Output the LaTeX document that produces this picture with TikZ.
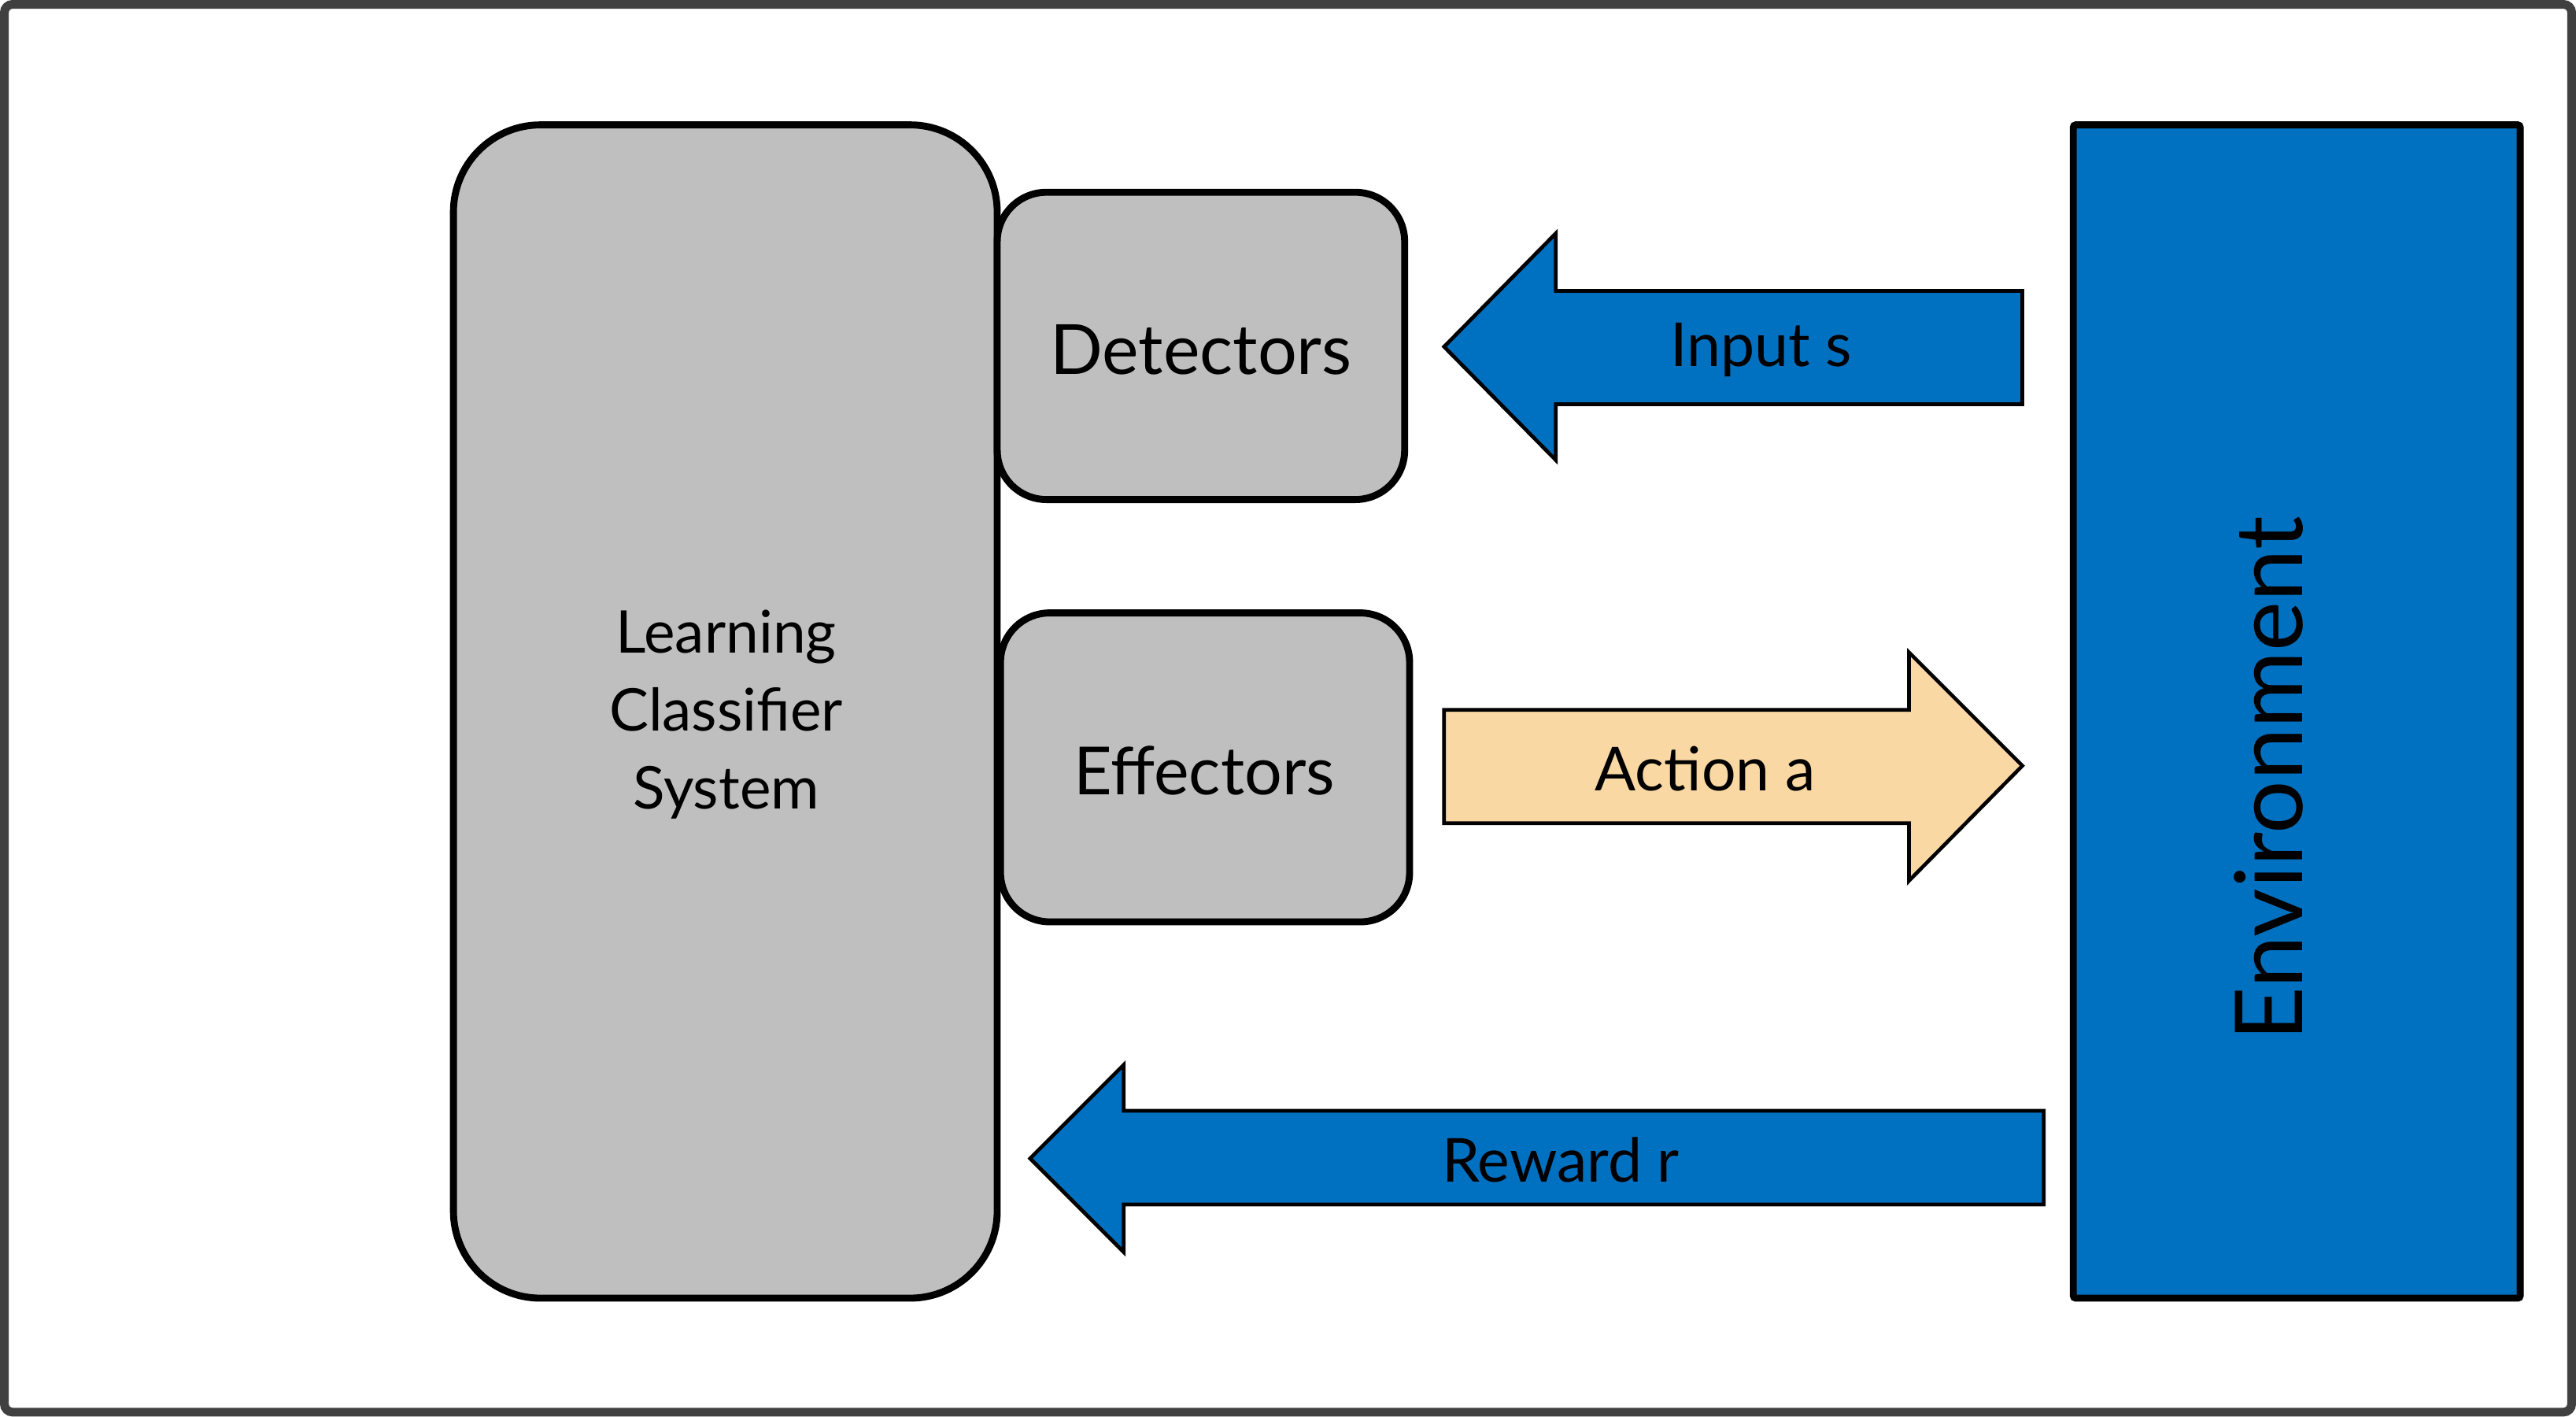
\documentclass[tikz,border=0pt]{standalone}
\usepackage{fontspec}
\setmainfont{Lato}
\definecolor{boxgray}{HTML}{BFBFBF}
\definecolor{envblue}{HTML}{0070C0}
\definecolor{actfill}{HTML}{FAD8A4}
\definecolor{frame}{HTML}{404040}
\begin{document}
\begin{tikzpicture}[x=0.02cm,y=-0.02cm,
  gbox/.style={draw=black,fill=boxgray,line width=0.085cm,rounded corners=#1},
  arrowshape/.style={draw=black,line width=0.045cm,line join=miter},
  lbl/.style={inner sep=0pt,font=\fontsize{24}{28}\selectfont},
  albl/.style={inner sep=0pt,font=\fontsize{21}{25}\selectfont}]
\useasboundingbox (0,0) rectangle (1568,862);
\fill[white] (0,0) rectangle (1568,862);
\draw[frame,line width=0.106cm,rounded corners=0.1cm] (2.65,2.65) rectangle (1565.35,859.35);
% LCS
\draw[gbox=1.06cm] (276,76) rectangle (607,790);
\node[inner sep=0pt,align=center,font=\fontsize{20.4}{27}\selectfont] (lcs) at (442,435) {Learning\\Classifier\\System};
% Detectors / Effectors
\draw[gbox=0.6cm] (607,117) rectangle (855,304);
\node[lbl] (det) at (731,213) {Detectors};
\draw[gbox=0.6cm] (609,373) rectangle (858,561);
\node[lbl,font=\fontsize{23}{28}\selectfont] (eff) at (733,469) {Effectors};
% Environment
\draw[draw=black,fill=envblue,line width=0.085cm,rounded corners=0.03cm] (1262,76) rectangle (1534,790);
\node[inner sep=0pt,rotate=90,font=\fontsize{32.5}{38}\selectfont] (env) at (1381,474) {Environment};
% Input arrow
\draw[arrowshape,fill=envblue] (879,211) -- (947,142) -- (947,177) -- (1231,177) -- (1231,246) -- (947,246) -- (947,280) -- cycle;
\node[albl] (inp) at (1072,213) {Input s};
% Action arrow
\draw[arrowshape,fill=actfill] (879,432) -- (1162,432) -- (1162,397) -- (1231,466) -- (1162,536) -- (1162,501) -- (879,501) -- cycle;
\node[albl] (act) at (1038,468) {Action a};
% Reward arrow
\draw[arrowshape,fill=envblue] (627,705) -- (684,648) -- (684,676) -- (1244,676) -- (1244,733) -- (684,733) -- (684,762) -- cycle;
\node[albl] (rew) at (950,706) {Reward r};
\end{tikzpicture}
\end{document}
